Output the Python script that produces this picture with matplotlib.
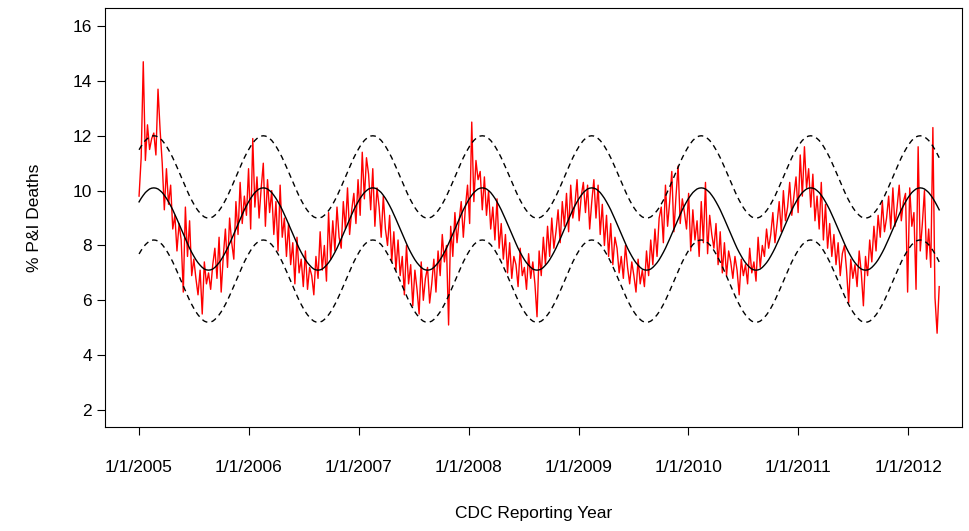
import numpy as np
import matplotlib.pyplot as plt

plt.rcParams['font.family'] = ['Liberation Sans', 'DejaVu Sans']

# one seasonal cycle of the fitted baseline, weekly, starting 1 Jan
base_cycle = [9.59, 9.72, 9.83, 9.93, 10.00, 10.06, 10.09, 10.10, 10.09, 10.06, 10.00, 9.93,
              9.83, 9.72, 9.59, 9.45, 9.30, 9.13, 8.96, 8.78, 8.60, 8.42, 8.24, 8.07,
              7.90, 7.75, 7.61, 7.48, 7.37, 7.28, 7.20, 7.14, 7.11, 7.10, 7.11, 7.14,
              7.20, 7.28, 7.37, 7.48, 7.61, 7.75, 7.90, 8.07, 8.24, 8.42, 8.60, 8.78,
              8.96, 9.13, 9.30, 9.45]
band = 1.9

pi_2005 = [9.8,11.2,14.7,11.1,12.4,11.5,11.9,12.1,11.3,13.7,12.2,11.0,9.3,10.8,9.5,10.2,8.6,9.1,7.8,8.8,8.2,6.3,9.4,7.6,8.9,6.9,7.5,6.8,6.2,7.1,5.5,7.4,6.6,7.0,6.4,7.3,7.9,6.8,8.3,6.3,7.6,8.6,7.2,9.0,8.1,7.5,9.6,8.4,10.3,8.8,9.8,9.1]
pi_2006 = [10.8,8.6,11.9,9.4,10.5,9.0,10.1,11.0,8.7,10.4,9.2,10.0,8.4,9.6,7.8,10.2,8.3,9.0,7.6,8.8,7.3,8.1,6.6,8.3,7.0,7.5,6.5,7.8,6.4,7.2,6.9,6.2,7.6,6.8,8.5,7.1,8.0,6.7,9.2,7.5,8.9,7.8,9.4,8.3,7.9,9.6,8.6,10.1,8.4,9.3,9.9,8.8]
pi_2007 = [10.4,9.1,11.4,9.7,11.2,10.6,9.3,10.8,8.7,10.1,9.4,8.3,9.8,8.6,8.0,9.1,7.4,8.5,7.1,8.2,6.9,7.6,6.2,8.0,6.6,7.3,5.8,7.1,6.4,5.5,7.4,6.0,6.8,7.2,5.9,6.6,7.5,6.3,7.8,6.9,8.4,7.4,8.0,5.1,8.7,7.6,9.2,8.1,8.9,9.6,8.3,9.4]
pi_2008 = [10.2,8.8,12.5,9.6,11.1,10.4,10.7,9.3,10.5,9.1,10.0,8.6,9.4,8.2,9.7,7.9,8.8,7.5,8.4,7.0,8.1,6.8,7.6,7.3,6.5,7.9,6.9,7.2,6.4,7.7,6.8,7.4,6.6,5.4,7.8,6.9,8.3,7.3,8.7,7.6,9.0,7.9,8.5,9.3,8.1,9.6,8.7,9.9,8.5,10.2,9.0,9.5]
pi_2009 = [10.4,8.9,9.8,10.3,9.2,10.2,8.6,9.6,10.4,9.0,10.2,8.4,9.5,8.0,9.1,7.6,8.8,7.3,8.3,7.9,7.0,7.6,6.8,8.0,7.2,6.6,7.4,6.9,6.3,7.5,6.6,7.1,6.5,7.8,6.9,8.2,7.3,8.6,7.6,9.0,9.4,8.1,10.2,8.7,9.6,10.7,8.5,9.8,10.9,8.8,9.7,9.2]
pi_2010 = [8.6,9.9,7.8,9.3,8.2,8.9,7.6,9.6,8.1,10.3,7.7,9.1,8.4,7.9,8.8,7.3,8.5,7.0,8.1,6.9,7.8,7.4,6.8,7.6,7.1,6.2,7.5,6.9,7.3,6.6,7.9,7.0,7.4,6.7,8.3,7.2,8.0,7.6,8.6,7.9,8.4,9.2,8.1,8.8,9.6,8.5,10.0,8.9,9.4,10.3,9.1,9.8]
pi_2011 = [10.5,9.2,11.3,9.8,11.6,10.1,10.8,9.4,10.6,8.9,9.8,8.6,10.3,8.2,9.5,7.9,8.8,7.6,8.4,7.3,8.1,6.9,7.7,8.0,7.1,5.9,7.5,6.8,7.3,6.5,7.8,7.0,5.8,7.6,6.9,8.2,7.4,8.7,7.8,9.1,8.3,9.6,8.5,9.0,9.8,8.6,10.1,8.7,9.4,10.2,8.9,9.6]
pi_2012 = [9.9,6.3,10.1,8.7,9.2,6.4,11.6,7.8,8.8,10.0,7.5,8.6,7.2,12.3,6.1,4.8,6.5]

years = [2005, 2006, 2007, 2008, 2009, 2010, 2011, 2012]
tick_labels = ["1/1/%d" % y for y in years]

pi = np.array(pi_2005 + pi_2006 + pi_2007 + pi_2008 + pi_2009 + pi_2010 + pi_2011 + pi_2012)
t = 2005 + np.arange(len(pi)) / 52.18
n_base = 52 * 7 + 17
tb = 2005 + np.arange(n_base) / 52.18
base = np.resize(np.array(base_cycle), n_base)

fig = plt.figure(figsize=(9.69, 5.31), dpi=100)
ax = fig.add_axes([105/969, 104/531, 857/969, 419/531])
ax.plot(t, pi, color='#ff0000', lw=1)
ax.plot(tb, base, color='black', lw=1)
ax.plot(tb, base + band, color='black', lw=1, ls=(0, (4, 3)))
ax.plot(tb, base - band, color='black', lw=1, ls=(0, (4, 3)))

ax.set_xlim(2004.69, 2012.49)
ax.set_ylim(1.38, 16.66)
ax.set_xticks(years)
ax.set_xticklabels(tick_labels)
ax.set_yticks(range(2, 17, 2))
ax.tick_params(axis='both', direction='out', length=6, labelsize=12.5)
ax.tick_params(axis='x', pad=18)
ax.set_xlabel('CDC Reporting Year', fontsize=12.5, labelpad=22)
ax.set_ylabel('% P&I Deaths', fontsize=12.5, labelpad=22)
fig.savefig('out.png', dpi=100)
